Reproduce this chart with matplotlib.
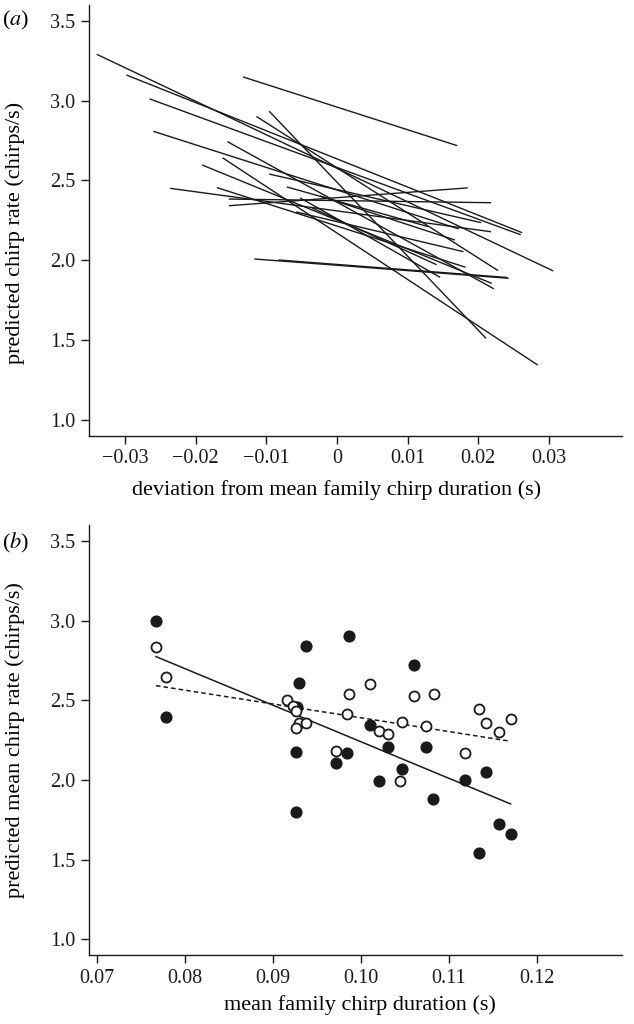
import matplotlib
matplotlib.use("Agg")
import matplotlib.pyplot as plt

plt.rcParams['font.family'] = ['Liberation Serif', 'DejaVu Serif']
plt.rcParams['mathtext.fontset'] = 'stix'

# (a) per-family regression lines: start / end of each line
dev_start = [-0.0340, -0.0298, -0.0265, -0.0260, -0.0236, -0.0191, -0.0170, -0.0162,
             -0.0155, -0.0153, -0.0153, -0.0133, -0.0114, -0.0096, -0.0096, -0.0071,
             -0.0117, -0.0083, -0.0052, -0.0035, -0.0058, -0.0024]
dev_end = [0.0306, 0.0262, 0.0260, 0.0172, 0.0218, 0.0219, 0.0182, 0.0284,
           0.0222, 0.0218, 0.0185, 0.0170, 0.0228, 0.0211, 0.0204, 0.0129,
           0.0243, 0.0241, 0.0146, 0.0141, 0.0179, 0.0167]
rate_start = [3.291, 3.161, 3.011, 2.808, 2.450, 2.597, 2.455, 2.642,
              2.743, 2.383, 2.341, 3.149, 2.901, 2.934, 2.540, 2.459,
              2.007, 2.001, 2.390, 2.327, 2.302, 2.402]
rate_end = [1.932, 2.172, 2.159, 2.196, 2.178, 1.854, 1.955, 1.342,
            1.820, 2.360, 2.453, 2.718, 1.934, 1.509, 2.235, 2.210,
            1.886, 1.891, 1.892, 1.971, 2.053, 2.126]

# (b) family means, filled and open symbols
dur_filled = [0.0767, 0.0778, 0.0937, 0.0986, 0.1060, 0.0930, 0.0927, 0.1010, 0.1031,
              0.1074, 0.0984, 0.0926, 0.0972, 0.1047, 0.1020, 0.1118, 0.1142, 0.1082,
              0.0926, 0.1157, 0.1170, 0.1134]
rate_filled = [3.000, 2.398, 2.841, 2.902, 2.722, 2.607, 2.459, 2.346, 2.210,
               2.206, 2.168, 2.174, 2.105, 2.067, 1.996, 2.000, 2.052, 1.880,
               1.798, 1.725, 1.660, 1.544]
dur_open = [0.0767, 0.0778, 0.1010, 0.0986, 0.1060, 0.1083, 0.0916, 0.1134, 0.0923,
            0.0926, 0.0984, 0.1047, 0.1074, 0.1142, 0.1170, 0.1157, 0.0930, 0.0937,
            0.0926, 0.1020, 0.1031, 0.0972, 0.1118, 0.1044]
rate_open = [2.837, 2.649, 2.601, 2.538, 2.528, 2.538, 2.503, 2.446, 2.465,
             2.433, 2.413, 2.363, 2.341, 2.360, 2.383, 2.304, 2.360, 2.360,
             2.325, 2.310, 2.287, 2.184, 2.168, 1.996]

# fitted lines in (b)
fit_x = [0.0767, 0.1170]
fit_solid = [2.774, 1.850]
fit_dashed = [2.592, 2.243]

yticks = [1.0, 1.5, 2.0, 2.5, 3.0, 3.5]
xticks_a = [-0.03, -0.02, -0.01, 0, 0.01, 0.02, 0.03]
xlabels_a = ['\u22120.03', '\u22120.02', '\u22120.01', '0', '0.01', '0.02', '0.03']
xticks_b = [0.07, 0.08, 0.09, 0.10, 0.11, 0.12]
xlabels_b = ['0.07', '0.08', '0.09', '0.10', '0.11', '0.12']

ink = '#1a1a1a'
W, H = 634, 1024
fig = plt.figure(figsize=(W / 100, H / 100), dpi=100)

def frame(ax):
    for s in ['top', 'right']:
        ax.spines[s].set_visible(False)
    for s in ['left', 'bottom']:
        ax.spines[s].set_linewidth(1.0)
        ax.spines[s].set_color(ink)
    ax.tick_params(direction='out', length=6, width=1.0, colors=ink,
                   labelsize=14.5, pad=4)
    ax.set_ylim(0.9, 3.6)
    ax.set_yticks(yticks)
    ax.set_yticklabels(['%.1f' % v for v in yticks])

# panel (a)
ax1 = fig.add_axes([89 / W, 1 - 435.5 / H, 533 / W, 430.5 / H])
frame(ax1)
for x0, x1, y0, y1 in zip(dev_start, dev_end, rate_start, rate_end):
    ax1.plot([x0, x1], [y0, y1], color=ink, lw=1.0, solid_capstyle='butt')
ax1.set_xlim(-0.03509, 0.04033)
ax1.set_xticks(xticks_a)
ax1.set_xticklabels(xlabels_a)
ax1.set_xlabel('deviation from mean family chirp duration (s)', fontsize=16)
ax1.set_ylabel('predicted chirp rate (chirps/s)', fontsize=16)
ax1.xaxis.set_label_coords((337 - 89) / 533, -45 / 430.5)
ax1.yaxis.set_label_coords(-64 / 533, 0.47)
fig.text(2 / W, 1 - 20 / H, r'($\mathit{a}$)', fontsize=16, va='center', ha='left')

# panel (b)
ax2 = fig.add_axes([89 / W, 1 - 955.4 / H, 533 / W, 430.5 / H])
frame(ax2)
ax2.plot(fit_x, fit_solid, color=ink, lw=1.1)
ax2.plot(fit_x, fit_dashed, color=ink, lw=1.1, linestyle=(0, (3, 2)))
ax2.scatter(dur_filled, rate_filled, s=60, color=ink, edgecolors=ink, zorder=3)
ax2.scatter(dur_open, rate_open, s=52, facecolors='white', edgecolors=ink,
            linewidths=1.3, zorder=4)
ax2.set_xlim(0.06909, 0.12966)
ax2.set_xticks(xticks_b)
ax2.set_xticklabels(xlabels_b)
ax2.set_xlabel('mean family chirp duration (s)', fontsize=16)
ax2.set_ylabel('predicted mean chirp rate (chirps/s)', fontsize=16)
ax2.xaxis.set_label_coords((360 - 89) / 533, -40 / 430.5)
ax2.yaxis.set_label_coords(-64 / 533, 0.5)
fig.text(2 / W, 1 - 543 / H, r'($\mathit{b}$)', fontsize=16, va='center', ha='left')

fig.savefig('out.png', dpi=100)
